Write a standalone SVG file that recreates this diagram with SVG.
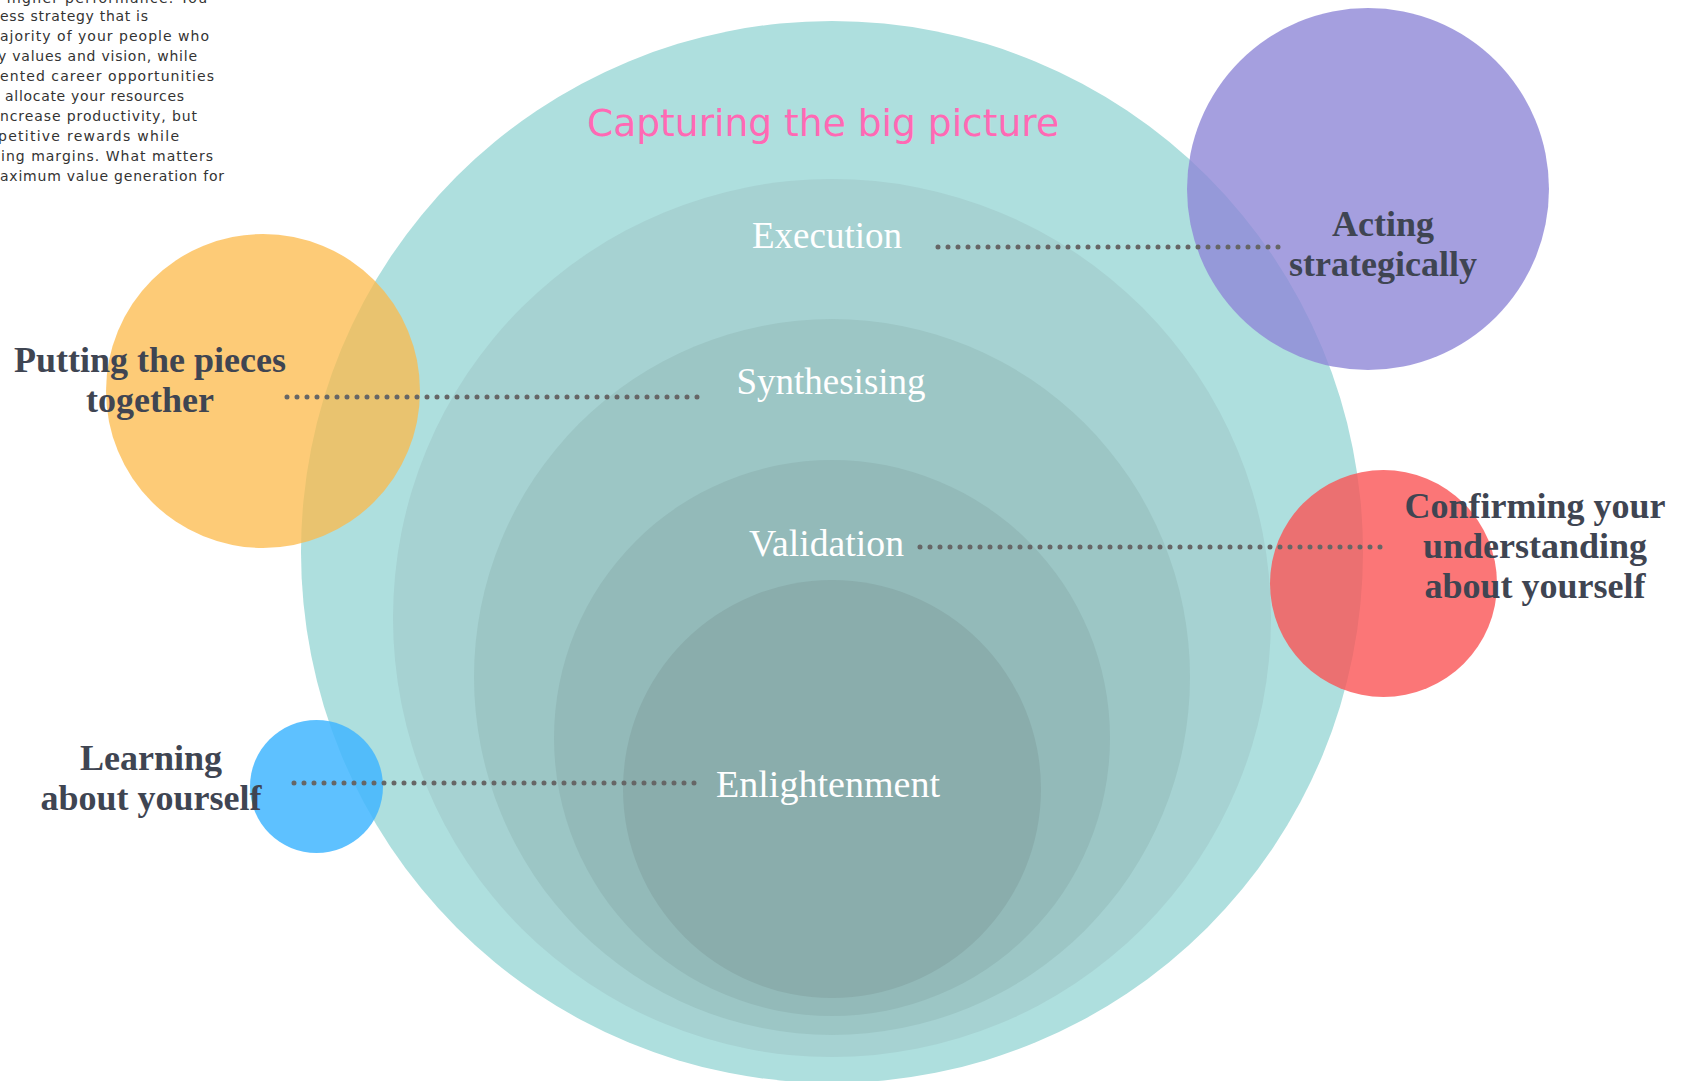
<svg xmlns="http://www.w3.org/2000/svg" width="1686" height="1081" viewBox="0 0 1686 1081">
  <style>
    .ring-label { font-family: "Liberation Serif", "Times New Roman", serif; font-size: 37px; fill: #ffffff; text-anchor: middle; }
    .side-label { font-family: "Liberation Serif", "Times New Roman", serif; font-size: 36px; font-weight: bold; fill: #3f4552; text-anchor: middle; }
    .title { font-family: "DejaVu Sans", "Liberation Sans", sans-serif; font-size: 38px; fill: #ff69b4; }
    .intro { font-family: "DejaVu Sans", "Liberation Sans", sans-serif; font-size: 14px; fill: #333333; }
    .dots { fill: none; stroke: #666666; stroke-width: 5; stroke-linecap: round; stroke-dasharray: 0 10; }
  </style>
  <rect width="1686" height="1081" fill="#ffffff"/>

  <g id="intro-text">
    <text class="intro" x="-6" y="3" textLength="213" lengthAdjust="spacing">r higher performance. You</text>
    <text class="intro" x="0" y="21" textLength="148" lengthAdjust="spacing">ess strategy that is</text>
    <text class="intro" x="0" y="41" textLength="209" lengthAdjust="spacing">ajority of your people who</text>
    <text class="intro" x="-2" y="61" textLength="199" lengthAdjust="spacing">y values and vision, while</text>
    <text class="intro" x="0" y="81" textLength="214" lengthAdjust="spacing">ented career opportunities</text>
    <text class="intro" x="5" y="101" textLength="179" lengthAdjust="spacing">allocate your resources</text>
    <text class="intro" x="0" y="121" textLength="197" lengthAdjust="spacing">ncrease productivity, but</text>
    <text class="intro" x="-2" y="141" textLength="181" lengthAdjust="spacing">petitive rewards while</text>
    <text class="intro" x="1" y="161" textLength="212" lengthAdjust="spacing">ing margins. What matters</text>
    <text class="intro" x="0" y="181" textLength="224" lengthAdjust="spacing">aximum value generation for</text>
  </g>

  <g id="ring-big-picture">
    <circle cx="832" cy="552" r="531" fill="#aedfde"/>
    <text class="title" x="587" y="136" textLength="472" lengthAdjust="spacingAndGlyphs">Capturing the big picture</text>
  </g>
  <g id="ring-execution">
    <circle cx="832" cy="618" r="439" fill="#a6d2d2"/>
  </g>
  <g id="ring-synthesising">
    <circle cx="832" cy="677" r="358" fill="#9cc6c5"/>
  </g>
  <g id="ring-validation">
    <circle cx="832" cy="738" r="278" fill="#93bab9"/>
  </g>
  <g id="ring-enlightenment">
    <circle cx="832" cy="789" r="209" fill="#8aadac"/>
  </g>

  <g id="node-putting-pieces">
    <circle cx="263" cy="391" r="157" fill="rgb(252,186,74)" fill-opacity="0.75"/>
  </g>
  <g id="node-learning">
    <circle cx="316.5" cy="786.5" r="66.5" fill="rgb(66,182,255)" fill-opacity="0.85"/>
  </g>
  <g id="node-acting">
    <circle cx="1368" cy="189" r="181" fill="rgb(142,135,215)" fill-opacity="0.8"/>
  </g>
  <g id="node-confirming">
    <circle cx="1383.5" cy="583.5" r="113.5" fill="rgb(250,84,85)" fill-opacity="0.8"/>
  </g>

  <g id="connectors">
    <line class="dots" x1="938" y1="247" x2="1288" y2="247"/>
    <line class="dots" x1="287" y1="397" x2="707" y2="397"/>
    <line class="dots" x1="920" y1="547" x2="1390" y2="547"/>
    <line class="dots" x1="294" y1="783" x2="704" y2="783"/>
  </g>

  <g id="labels">
    <text class="ring-label" x="827" y="248">Execution</text>
    <text class="ring-label" x="831" y="394">Synthesising</text>
    <text class="ring-label" x="826.5" y="556" textLength="155" lengthAdjust="spacingAndGlyphs">Validation</text>
    <text class="ring-label" x="828" y="797" textLength="224" lengthAdjust="spacingAndGlyphs">Enlightenment</text>

    <text class="side-label" x="150" y="372">Putting the pieces</text>
    <text class="side-label" x="150" y="412">together</text>
    <text class="side-label" x="1383" y="236">Acting</text>
    <text class="side-label" x="1383" y="276">strategically</text>
    <text class="side-label" x="1535" y="518">Confirming your</text>
    <text class="side-label" x="1535" y="558">understanding</text>
    <text class="side-label" x="1535" y="598">about yourself</text>
    <text class="side-label" x="151" y="770">Learning</text>
    <text class="side-label" x="151" y="810">about yourself</text>
  </g>
</svg>
